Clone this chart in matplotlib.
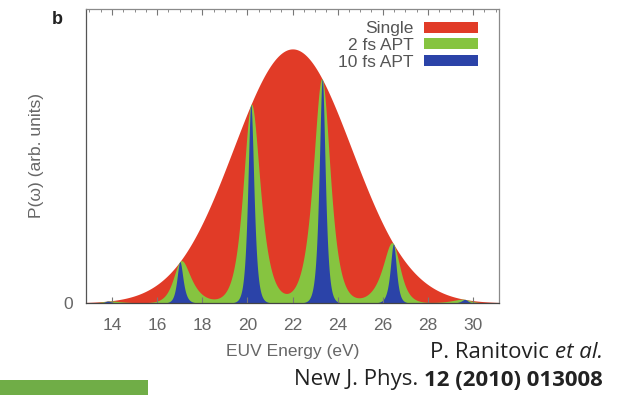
import matplotlib.pyplot as plt
import numpy as np
from matplotlib.patches import Patch

# single-pulse spectral envelope (Gaussian), in eV
env_center = 22.0
env_sigma = 2.62
env_peak = 1.0

# harmonic energies of the train and line half-widths (eV)
harmonic_e = [13.8, 17.0, 20.15, 23.32, 26.48, 29.65]
width_2fs = 0.34
width_10fs = 0.12

x_ticks = [14, 16, 18, 20, 22, 24, 26, 28, 30]
series_labels = ["Single", "2 fs APT", "10 fs APT"]
series_colors = ["#e13b27", "#86c440", "#2b43a8"]

xlim = (12.85, 31.15)
ylim = (0.0, 1.157)


def envelope(e):
    return env_peak * np.exp(-(e - env_center) ** 2 / (2 * env_sigma ** 2))


def pulse_train(e, w):
    comb = np.zeros_like(e)
    for ek in harmonic_e:
        comb += 1.0 / np.cosh((e - ek) / w)
    return envelope(e) * comb


energy = np.linspace(xlim[0], xlim[1], 5000)
curves = [envelope(energy), pulse_train(energy, width_2fs), pulse_train(energy, width_10fs)]

plt.rcParams["font.family"] = ["Liberation Sans", "DejaVu Sans"]
fs = 12.5
grey = "#666666"

fig = plt.figure(figsize=(6.17, 3.95), dpi=100)
ax = fig.add_axes([86 / 617, 1 - 303 / 395, 413 / 617, 294 / 395])

for y, c in zip(curves, series_colors):
    ax.fill_between(energy, 0, y, color=c, lw=0)

ax.set_xlim(*xlim)
ax.set_ylim(*ylim)
ax.set_xticks(x_ticks)
ax.set_xticks(np.arange(13, 31.01, 0.5), minor=True)
ax.set_yticks([0])
ax.tick_params(axis="both", which="both", direction="in", top=True, colors="#777777",
               labelcolor=grey, labelsize=fs)
ax.tick_params(axis="x", which="major", length=4, pad=11)
ax.tick_params(axis="x", which="minor", length=2, bottom=False)
ax.tick_params(axis="y", length=0, pad=9)
for s in ax.spines.values():
    s.set_color("#8a8a8a")
    s.set_linewidth(0.9)
ax.spines["left"].set_color("#555555")
ax.spines["bottom"].set_color("#444444")

ax.set_xlabel("EUV Energy (eV)", color=grey, fontsize=fs, labelpad=8)
ax.set_ylabel("P(ω) (arb. units)", color=grey, fontsize=fs, labelpad=14)

handles = [Patch(facecolor=c, edgecolor="none") for c in series_colors]
ax.legend(handles, series_labels, loc="upper right", markerfirst=False, frameon=False,
          fontsize=fs, labelcolor="#555555", handlelength=3.1, handleheight=0.6,
          handletextpad=0.6, labelspacing=0.1, borderaxespad=0.3,
          bbox_to_anchor=(0.979, 1.0))

fig.text(57 / 617, 1 - 20 / 395, "b", fontsize=13, fontweight="bold", ha="center",
         va="center", color="#222222")

# citation, laid out right to left so mixed styles sit side by side
cite_font = ["Open Sans", "DejaVu Sans"]
renderer = fig.canvas.get_renderer()


def text_run(y_px, pieces):
    x = 603
    for s, kw in reversed(pieces):
        t = fig.text(x / 617, 1 - y_px / 395, s, fontsize=16, ha="right", va="center",
                     color="#222222", family=cite_font, **kw)
        x -= t.get_window_extent(renderer).width


text_run(352, [("P. Ranitovic ", {}), ("et al.", {"style": "italic"})])
text_run(380, [("New J. Phys. ", {}), ("12 (2010) 013008", {"weight": "bold"})])

# green bar at bottom left
fig.add_artist(plt.Rectangle((0, 0), 148 / 617, 15 / 395, transform=fig.transFigure,
                             facecolor="#70ad47", edgecolor="none"))

fig.savefig("out.png", dpi=100)
